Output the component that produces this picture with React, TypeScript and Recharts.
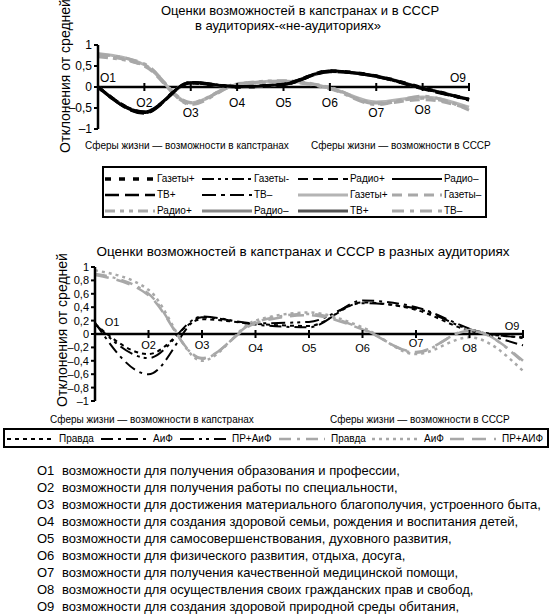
import React from 'react';
import { LineChart, Line, XAxis, YAxis, ReferenceLine, ReferenceDot } from 'recharts';

const FONT = '"Liberation Sans", Arial, sans-serif';

const spheres = ['O1', 'O2', 'O3', 'O4', 'O5', 'O6', 'O7', 'O8', 'O9'];

// chart 1 — audiences / non-audiences
const gazPlusB = [0, -0.6, 0.1, 0.0, 0.06, 0.38, 0.26, -0.02, -0.3];
const gazMinusB = [0, -0.62, 0.12, 0.02, 0.05, 0.37, 0.24, -0.04, -0.28];
const radPlusB = [0.01, -0.58, 0.1, 0.01, 0.08, 0.39, 0.25, -0.03, -0.31];
const radMinusB = [0, -0.61, 0.11, 0.0, 0.07, 0.38, 0.27, -0.02, -0.29];
const tvPlusB = [0, -0.63, 0.09, 0.02, 0.06, 0.36, 0.25, -0.05, -0.3];
const tvMinusB = [0.01, -0.6, 0.12, 0.01, 0.05, 0.39, 0.26, -0.03, -0.32];
const gazPlusG = [0.8, 0.53, -0.38, 0.06, 0.14, -0.02, -0.36, -0.24, -0.48];
const gazMinusG = [0.76, 0.5, -0.4, 0.08, 0.13, -0.03, -0.4, -0.3, -0.52];
const radPlusG = [0.72, 0.52, -0.37, 0.07, 0.15, -0.01, -0.38, -0.27, -0.5];
const radMinusG = [0, -0.6, 0.11, 0.01, 0.07, 0.38, 0.25, -0.03, -0.3];
const tvPlusG = [0, -0.61, 0.1, 0.0, 0.06, 0.37, 0.26, -0.02, -0.29];
const tvMinusG = [0.78, 0.55, -0.42, 0.05, 0.12, -0.04, -0.42, -0.22, -0.55];
const ticks1 = [-1, -0.5, 0, 0.5, 1];

// chart 2 — different audiences
const pravdaB = [0.15, -0.3, 0.22, 0.15, 0.12, 0.47, 0.36, 0.05, -0.05];
const aifB = [0.17, -0.6, 0.25, 0.14, 0.1, 0.5, 0.4, 0.08, -0.17];
const prAifB = [0.15, -0.36, 0.26, 0.16, 0.18, 0.46, 0.38, 0.07, -0.06];
const pravdaG = [0.9, 0.6, -0.37, 0.18, 0.3, 0.08, -0.28, 0.06, -0.42];
const aifG = [0.95, 0.66, -0.4, 0.2, 0.32, 0.1, -0.3, -0.05, -0.55];
const prAifG = [0.88, 0.58, -0.36, 0.16, 0.28, 0.07, -0.27, 0.05, -0.4];
const ticks2 = [-1, -0.8, -0.6, -0.4, -0.2, 0, 0.2, 0.4, 0.6, 0.8, 1];

const notes = [
  'возможности для получения образования и профессии,',
  'возможности для получения работы по специальности,',
  'возможности для достижения материального благополучия, устроенного быта,',
  'возможности для создания здоровой семьи, рождения и воспитания детей,',
  'возможности для самосовершенствования, духовного развития,',
  'возможности для физического развития, отдыха, досуга,',
  'возможности для получения качественной медицинской помощи,',
  'возможности для осуществления своих гражданских прав и свобод,',
  'возможности для создания здоровой природной среды обитания,',
];

const data1 = spheres.map((cat, i) => ({
  cat,
  gazPlusB: gazPlusB[i], gazMinusB: gazMinusB[i], radPlusB: radPlusB[i],
  radMinusB: radMinusB[i], tvPlusB: tvPlusB[i], tvMinusB: tvMinusB[i],
  gazPlusG: gazPlusG[i], gazMinusG: gazMinusG[i], radPlusG: radPlusG[i],
  radMinusG: radMinusG[i], tvPlusG: tvPlusG[i], tvMinusG: tvMinusG[i],
}));

const data2 = spheres.map((cat, i) => ({
  cat,
  pravdaB: pravdaB[i], aifB: aifB[i], prAifB: prAifB[i],
  pravdaG: pravdaG[i], aifG: aifG[i], prAifG: prAifG[i],
}));

type Style = { key: string; name: string; color: string; width: number; dash?: string };

// legend order
const series1: Style[] = [
  { key: 'gazPlusB', name: 'Газеты+', color: '#000', width: 3.5, dash: '6 8' },
  { key: 'gazMinusB', name: 'Газеты-', color: '#000', width: 2, dash: '12 4 3 4 3 4' },
  { key: 'radPlusB', name: 'Радио+', color: '#000', width: 2, dash: '10 5' },
  { key: 'radMinusB', name: 'Радио–', color: '#000', width: 2 },
  { key: 'tvPlusB', name: 'ТВ+', color: '#000', width: 2.5, dash: '14 6' },
  { key: 'tvMinusB', name: 'ТВ–', color: '#000', width: 2, dash: '14 5 4 5' },
  { key: 'gazPlusG', name: 'Газеты+', color: '#b4b4b4', width: 3 },
  { key: 'gazMinusG', name: 'Газеты–', color: '#a8a8a8', width: 3, dash: '10 6' },
  { key: 'radPlusG', name: 'Радио+', color: '#a8a8a8', width: 3, dash: '10 5 4 5 4 5' },
  { key: 'radMinusG', name: 'Радио–', color: '#888', width: 3 },
  { key: 'tvPlusG', name: 'ТВ+', color: '#555', width: 3 },
  { key: 'tvMinusG', name: 'ТВ–', color: '#a8a8a8', width: 3, dash: '12 6 4 6' },
];
// drawing order: dark grays under the black bundle
const drawOrder1 = ['radMinusG', 'tvPlusG', 'gazPlusG', 'gazMinusG', 'radPlusG', 'tvMinusG',
  'gazPlusB', 'gazMinusB', 'radPlusB', 'radMinusB', 'tvPlusB', 'tvMinusB'];

const series2: Style[] = [
  { key: 'pravdaB', name: 'Правда', color: '#000', width: 2, dash: '4 4' },
  { key: 'aifB', name: 'АиФ', color: '#000', width: 2, dash: '12 5 3 5' },
  { key: 'prAifB', name: 'ПР+АиФ', color: '#000', width: 2, dash: '14 5 3 4 3 5' },
  { key: 'pravdaG', name: 'Правда', color: '#a8a8a8', width: 2.5, dash: '12 6 3 6' },
  { key: 'aifG', name: 'АиФ', color: '#a8a8a8', width: 2.5, dash: '3 4' },
  { key: 'prAifG', name: 'ПР+АИФ', color: '#a8a8a8', width: 2.5, dash: '14 8' },
];

const fmt = (v: number) => (v < 0 ? '–' : '') + String(Math.abs(v)).replace('.', ',');

// label offsets (dx, dy) of the sphere names around the zero line
const labelPos1 = [[10, -9], [0, 16], [0, 26], [0, 16], [0, 16], [0, 16], [0, 26], [0, 23], [-11, -9]];
const labelPos2 = [[17, -12], [0, 11], [0, 11], [0, 14], [0, 14], [0, 14], [0, 9], [0, 14], [-11, -8]];

const sphereMark = (text: string, dx: number, dy: number, half: number, size: number) => (p: any) => {
  const { x, y } = p.viewBox;
  return (
    <g>
      <line x1={x} y1={y - half} x2={x} y2={y + half} stroke="#000" strokeWidth={2} />
      <text x={x + dx} y={y + dy} textAnchor="middle" dominantBaseline="central"
        fontSize={size} fontFamily={FONT} fill="#000">{text}</text>
    </g>
  );
};

const abs = (l: number, t: number, extra: React.CSSProperties = {}): React.CSSProperties => ({
  position: 'absolute', left: l, top: t, fontFamily: FONT, whiteSpace: 'nowrap', color: '#000', ...extra,
});

const Sample = ({ s, w }: { s: Style; w: number }) => (
  <svg width={w} height={8} style={{ display: 'block' }}>
    <line x1={0} y1={4} x2={w} y2={4} stroke={s.color} strokeWidth={s.width} strokeDasharray={s.dash} />
  </svg>
);

const Centered = ({ cx, cy, size, children }: { cx: number; cy: number; size: number; children: React.ReactNode }) => (
  <div style={abs(cx, cy, { fontSize: size, transform: 'translate(-50%, -50%)' })}>{children}</div>
);

const YLabel = ({ cx, cy }: { cx: number; cy: number }) => (
  <div style={abs(cx, cy, { fontSize: 14, transform: 'translate(-50%, -50%) rotate(-90deg)' })}>
    Отклонения от средней
  </div>
);

export default function App() {
  const cols1 = [1, 98, 194, 288];
  const rows1 = [5, 21, 37];
  const items2 = [2, 96, 175, 274, 367, 445];
  return (
    <div style={{ position: 'absolute', left: 0, top: 0, width: 553, height: 615, background: '#fff' }}>
      {/* chart 1 */}
      <Centered cx={300} cy={10} size={13}>Оценки возможностей в капстранах и в СССР</Centered>
      <Centered cx={288} cy={25} size={13}>в аудиториях-«не-аудиториях»</Centered>
      <YLabel cx={65} cy={76} />
      <div style={abs(0, 0)}>
        <LineChart width={553} height={160} data={data1} margin={{ top: 45, right: 84, bottom: 31, left: 68 }}>
          <XAxis dataKey="cat" hide />
          <YAxis width={30} domain={[-1, 1]} ticks={ticks1} tickFormatter={fmt}
            axisLine={{ stroke: '#000', strokeWidth: 2.5 }} tickLine={{ stroke: '#000', strokeWidth: 2 }}
            tickSize={4} tick={{ fontSize: 12, fill: '#000', fontFamily: FONT }} />
          <ReferenceLine y={0} stroke="#000" strokeWidth={2.5} />
          {drawOrder1.map((k) => {
            const s = series1.find((d) => d.key === k)!;
            return (
              <Line key={k} type="monotone" dataKey={k} stroke={s.color} strokeWidth={s.width}
                strokeDasharray={s.dash} dot={false} activeDot={false} isAnimationActive={false} />
            );
          })}
          {spheres.map((c, i) => (
            <ReferenceDot key={c} x={c} y={0} r={0} stroke="none" fill="none"
              label={sphereMark(c, labelPos1[i][0], labelPos1[i][1], 4, 12)} />
          ))}
        </LineChart>
      </div>
      <div style={abs(85, 140, { fontSize: 10 })}>Сферы жизни — возможности в капстранах</div>
      <div style={abs(311, 140, { fontSize: 10 })}>Сферы жизни — возможности в СССР</div>

      {/* legend 1 */}
      <div style={abs(102, 166, { width: 385, height: 52, border: '2px solid #000', boxSizing: 'border-box' })}>
        {series1.map((s, i) => (
          <div key={s.key} style={abs(cols1[i % 4], rows1[Math.floor(i / 4)], { display: 'flex', alignItems: 'center', fontSize: 10 })}>
            <Sample s={s} w={50} />
            <span style={{ marginLeft: 2 }}>{s.name}</span>
          </div>
        ))}
      </div>

      {/* chart 2 */}
      <Centered cx={303} cy={251} size={13.5}>Оценки возможностей в капстранах и СССР в разных аудиториях</Centered>
      <YLabel cx={62} cy={330} />
      <div style={abs(0, 230)}>
        <LineChart width={553} height={200} data={data2} margin={{ top: 37, right: 30, bottom: 29, left: 60 }}>
          <XAxis dataKey="cat" hide />
          <YAxis width={35} domain={[-1, 1]} ticks={ticks2} tickFormatter={fmt} interval={0}
            axisLine={{ stroke: '#000', strokeWidth: 2.5 }} tickLine={{ stroke: '#000', strokeWidth: 2 }}
            tickSize={4} tick={{ fontSize: 11, fill: '#000', fontFamily: FONT }} />
          <ReferenceLine y={0} stroke="#000" strokeWidth={2.5} />
          {series2.map((s) => (
            <Line key={s.key} type="monotone" dataKey={s.key} stroke={s.color} strokeWidth={s.width}
              strokeDasharray={s.dash} dot={false} activeDot={false} isAnimationActive={false} />
          ))}
          {spheres.map((c, i) => (
            <ReferenceDot key={c} x={c} y={0} r={0} stroke="none" fill="none"
              label={sphereMark(c, labelPos2[i][0], labelPos2[i][1], 4, 11)} />
          ))}
        </LineChart>
      </div>
      <div style={abs(50, 414, { fontSize: 10 })}>Сферы жизни — возможности в капстранах</div>
      <div style={abs(330, 414, { fontSize: 10 })}>Сферы жизни — возможности в СССР</div>

      {/* legend 2 */}
      <div style={abs(3, 428, { width: 546, height: 20, border: '2px solid #000', boxSizing: 'border-box' })}>
        {series2.map((s, i) => (
          <div key={s.key} style={abs(items2[i], 3, { display: 'flex', alignItems: 'center', fontSize: 10 })}>
            <Sample s={s} w={46} />
            <span style={{ marginLeft: 6 }}>{s.name}</span>
          </div>
        ))}
      </div>

      {/* notes */}
      <div style={abs(37, 462, { fontSize: 13, lineHeight: '17px' })}>
        {notes.map((t, i) => (
          <div key={spheres[i]}>
            <span style={{ display: 'inline-block', width: 25 }}>{spheres[i]}</span>{t}
          </div>
        ))}
      </div>
    </div>
  );
}
